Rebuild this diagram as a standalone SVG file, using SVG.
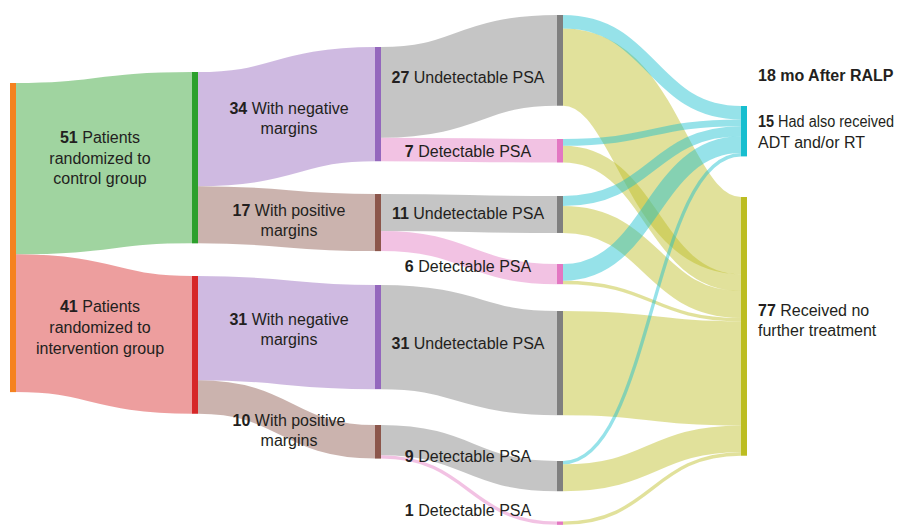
<svg xmlns="http://www.w3.org/2000/svg" width="905" height="525" viewBox="0 0 905 525">
<style>
text{font-family:"Liberation Sans",Arial,sans-serif;font-size:16px;fill:#231f20}
.c{text-anchor:middle}
.b{font-weight:bold}
.lk{fill:none;stroke-opacity:0.45}
.green{stroke:#2ca02c}.red{stroke:#d62728}.purple{stroke:#9467bd}.brown{stroke:#8c564b}
.gray{stroke:#7f7f7f}.pink{stroke:#e377c2}.cyan{stroke:#17becf}.olive{stroke:#bcbd22}
</style>
<rect width="905" height="525" fill="#ffffff"/>
<g id="links">
<path class="lk green" stroke-width="171.36" d="M16 168.68C104 168.68 104 157.68 192 157.68"/>
<path class="lk red" stroke-width="137.76" d="M16 323.24C104 323.24 104 344.88 192 344.88"/>
<path class="lk purple" stroke-width="114.24" d="M198 129.12C286.5 129.12 286.5 104.12 375 104.12"/>
<path class="lk brown" stroke-width="57.12" d="M198 214.8C286.5 214.8 286.5 222.56 375 222.56"/>
<path class="lk purple" stroke-width="104.16" d="M198 328.08C286.5 328.08 286.5 337.08 375 337.08"/>
<path class="lk brown" stroke-width="33.6" d="M198 396.96C286.5 396.96 286.5 441.8 375 441.8"/>
<path class="lk gray" stroke-width="90.72" d="M381 92.36C469 92.36 469 60.36 557 60.36"/>
<path class="lk pink" stroke-width="23.52" d="M381 149.48C469 149.48 469 150.76 557 150.76"/>
<path class="lk gray" stroke-width="36.96" d="M381 212.48C469 212.48 469 214.48 557 214.48"/>
<path class="lk pink" stroke-width="20.16" d="M381 241.04C469 241.04 469 274.08 557 274.08"/>
<path class="lk gray" stroke-width="104.16" d="M381 337.08C469 337.08 469 363.08 557 363.08"/>
<path class="lk gray" stroke-width="30.24" d="M381 440.12C469 440.12 469 476.12 557 476.12"/>
<path class="lk pink" stroke-width="3.36" d="M381 456.92C469 456.92 469 523.18 557 523.18"/>
<path class="lk olive" stroke-width="77.28" d="M563 67.08C652 67.08 652 235.64 741 235.64"/>
<path class="lk olive" stroke-width="16.8" d="M563 154.12C652 154.12 652 282.68 741 282.68"/>
<path class="lk olive" stroke-width="26.88" d="M563 219.52C652 219.52 652 304.52 741 304.52"/>
<path class="lk olive" stroke-width="3.36" d="M563 282.48C652 282.48 652 319.64 741 319.64"/>
<path class="lk olive" stroke-width="104.16" d="M563 363.08C652 363.08 652 373.4 741 373.4"/>
<path class="lk olive" stroke-width="26.88" d="M563 477.8C652 477.8 652 438.92 741 438.92"/>
<path class="lk olive" stroke-width="3.36" d="M563 523.18C652 523.18 652 454.04 741 454.04"/>
<path class="lk cyan" stroke-width="13.44" d="M563 21.72C652 21.72 652 112.72 741 112.72"/>
<path class="lk cyan" stroke-width="6.72" d="M563 142.36C652 142.36 652 122.8 741 122.8"/>
<path class="lk cyan" stroke-width="10.08" d="M563 201.04C652 201.04 652 131.2 741 131.2"/>
<path class="lk cyan" stroke-width="16.8" d="M563 272.4C652 272.4 652 144.64 741 144.64"/>
<path class="lk cyan" stroke-width="3.36" d="M563 462.68C652 462.68 652 154.72 741 154.72"/>
</g>
<g id="n-all"><rect x="10" y="83" width="6" height="309.12" fill="#f5821f"/></g>
<g id="n-control">
<rect x="192" y="72" width="6" height="171.36" fill="#2ca02c"/>
<text class="c" x="100" y="142.7"><tspan class="b">51</tspan> Patients</text>
<text class="c" x="100" y="163.5">randomized to</text>
<text class="c" x="100" y="184.3">control group</text>
</g>
<g id="n-intervention">
<rect x="192" y="276" width="6" height="137.76" fill="#d62728"/>
<text class="c" x="100" y="312.3"><tspan class="b">41</tspan> Patients</text>
<text class="c" x="100" y="333.1">randomized to</text>
<text class="c" x="100" y="353.9">intervention group</text>
</g>
<g id="n-neg34">
<rect x="375" y="47" width="6" height="114.24" fill="#9467bd"/>
<text class="c" x="289" y="114"><tspan class="b">34</tspan> With negative</text>
<text class="c" x="289" y="134">margins</text>
</g>
<g id="n-pos17">
<rect x="375" y="194" width="6" height="57.12" fill="#8c564b"/>
<text class="c" x="289" y="215.7"><tspan class="b">17</tspan> With positive</text>
<text class="c" x="289" y="235.5">margins</text>
</g>
<g id="n-neg31">
<rect x="375" y="285" width="6" height="104.16" fill="#9467bd"/>
<text class="c" x="289" y="325"><tspan class="b">31</tspan> With negative</text>
<text class="c" x="289" y="345">margins</text>
</g>
<g id="n-pos10">
<rect x="375" y="425" width="6" height="33.6" fill="#8c564b"/>
<text class="c" x="289" y="425.7"><tspan class="b">10</tspan> With positive</text>
<text class="c" x="289" y="445.7">margins</text>
</g>
<g id="n-und27">
<rect x="557" y="15" width="6" height="90.72" fill="#7f7f7f"/>
<text class="c" x="468" y="83.3"><tspan class="b">27</tspan> Undetectable PSA</text>
</g>
<g id="n-det7">
<rect x="557" y="139" width="6" height="23.52" fill="#e377c2"/>
<text class="c" x="468" y="157.3"><tspan class="b">7</tspan> Detectable PSA</text>
</g>
<g id="n-und11">
<rect x="557" y="196" width="6" height="36.96" fill="#7f7f7f"/>
<text class="c" x="468" y="219"><tspan class="b">11</tspan> Undetectable PSA</text>
</g>
<g id="n-det6">
<rect x="557" y="264" width="6" height="20.16" fill="#e377c2"/>
<text class="c" x="468" y="272.3"><tspan class="b">6</tspan> Detectable PSA</text>
</g>
<g id="n-und31">
<rect x="557" y="311" width="6" height="104.16" fill="#7f7f7f"/>
<text class="c" x="468" y="349"><tspan class="b">31</tspan> Undetectable PSA</text>
</g>
<g id="n-det9">
<rect x="557" y="461" width="6" height="30.24" fill="#7f7f7f"/>
<text class="c" x="468" y="462.3"><tspan class="b">9</tspan> Detectable PSA</text>
</g>
<g id="n-det1">
<rect x="557" y="521.5" width="6" height="3.36" fill="#e377c2"/>
<text class="c" x="468" y="515.7"><tspan class="b">1</tspan> Detectable PSA</text>
</g>
<g id="n-title">
<text class="b" x="758" y="81" font-size="16">18 mo After RALP</text>
</g>
<g id="n-adt15">
<rect x="741" y="106" width="6" height="50.4" fill="#17becf"/>
<text x="758" y="126.7" font-size="15" textLength="136" lengthAdjust="spacingAndGlyphs"><tspan class="b">15</tspan> Had also received</text>
<text x="758" y="147.7">ADT and/or RT</text>
</g>
<g id="n-none77">
<rect x="741" y="197" width="6" height="258.72" fill="#bcbd22"/>
<text x="758" y="315.7"><tspan class="b">77</tspan> Received no</text>
<text x="758" y="336.3">further treatment</text>
</g>
</svg>
